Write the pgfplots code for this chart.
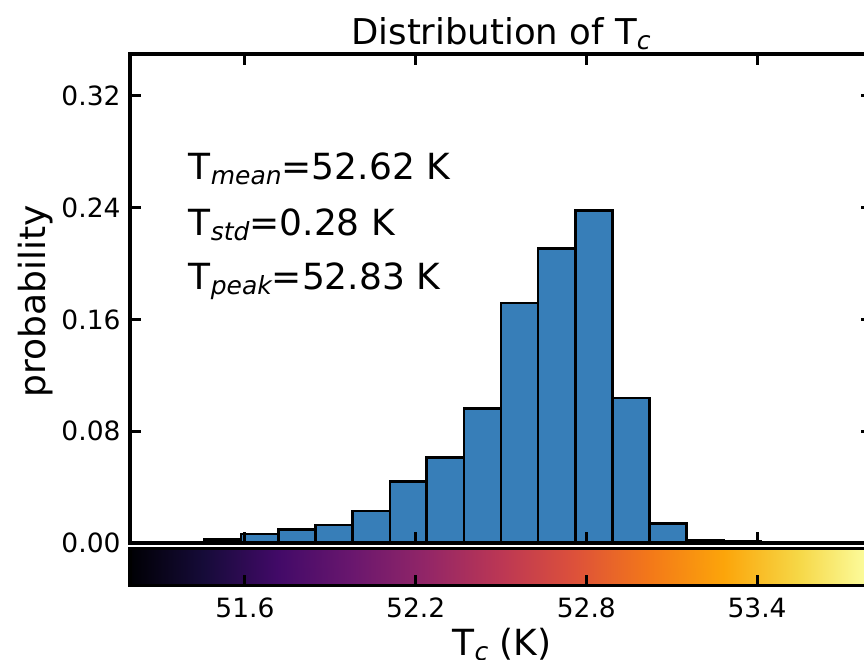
\documentclass[border=0pt]{standalone}
\usepackage{fontspec}
\setmainfont{DejaVu Sans}
\usepackage{pgfplots}
\pgfplotsset{compat=1.18}
\definecolor{barblue}{RGB}{55,126,184}
\newcommand{\subx}[1]{\raisebox{-5pt}{\fontsize{25}{25}\selectfont\itshape #1}}
\newcommand{\bigf}{\fontsize{36}{40}\selectfont}
\newcommand{\tickf}{\fontsize{26.5}{30}\selectfont}
\begin{document}
\begin{tikzpicture}
\path[use as bounding box, clip] (0pt,0pt) rectangle (864pt,-660pt);
\begin{axis}[
  scale only axis, width=742pt, height=489pt,
  at={(130pt,-543pt)}, anchor=south west,
  xmin=51.196, xmax=53.804, ymin=0, ymax=0.35,
  xtick={51.6,52.2,52.8,53.4}, xticklabel=\empty,
  ytick={0,0.08,0.16,0.24,0.32},
  tick align=inside, major tick length=11pt,
  every tick/.style={line width=3pt, black},
  axis line style={line width=3.3pt},
  minor tick num=0,
  yticklabel style={font=\tickf, inner sep=0pt, xshift=-9.3pt,
    /pgf/number format/.cd, fixed, fixed zerofill, precision=2, assume math mode=true},
  axis on top,
]
\addplot[ybar interval, fill=barblue, draw=black, line width=2.5pt] coordinates {
(51.457,0.0025) (51.587,0.0066) (51.718,0.0097) (51.848,0.0128) (51.978,0.0228)
(52.109,0.0439) (52.239,0.0612) (52.370,0.0961) (52.500,0.1717) (52.630,0.2107)
(52.761,0.2380) (52.891,0.1037) (53.022,0.0138) (53.152,0.0022) (53.282,0.0012)
(53.413,0.0008) (53.543,0.0008)
};
\node[anchor=base west, inner sep=0pt] at (axis cs:51.402,0.2604) {\bigf T\subx{mean}=52.62 K};
\node[anchor=base west, inner sep=0pt] at (axis cs:51.402,0.2202) {\bigf T\subx{std}=0.28 K};
\node[anchor=base west, inner sep=0pt] at (axis cs:51.402,0.1814) {\bigf T\subx{peak}=52.83 K};
\end{axis}
\begin{axis}[
  scale only axis, width=742pt, height=37pt,
  at={(130pt,-585.7pt)}, anchor=south west,
  xmin=51.196, xmax=53.804, ymin=0, ymax=1,
  ytick=\empty, xtick={51.6,52.2,52.8,53.4}, xtick pos=left,
  tick align=inside, major tick length=11pt,
  every tick/.style={line width=3pt, black},
  axis line style={line width=3.3pt},
  xticklabel style={font=\tickf, inner sep=0pt, yshift=-11.5pt,
    /pgf/number format/.cd, fixed, fixed zerofill, precision=1, assume math mode=true},
  axis on top,
  colormap={inferno}{rgb255=(0,0,4) rgb255=(22,11,57) rgb255=(66,10,104) rgb255=(106,23,110) rgb255=(147,38,103) rgb255=(188,55,84) rgb255=(221,81,58) rgb255=(243,120,25) rgb255=(252,165,10) rgb255=(246,215,70) rgb255=(252,255,164)},
  point meta min=51.196, point meta max=53.804,
]
\addplot[surf, shader=interp, point meta=x, mesh/cols=11] coordinates {
(51.196,0) (51.4568,0) (51.7176,0) (51.9784,0) (52.2392,0) (52.5,0) (52.7608,0) (53.0216,0) (53.2824,0) (53.5432,0) (53.804,0)
(51.196,1) (51.4568,1) (51.7176,1) (51.9784,1) (52.2392,1) (52.5,1) (52.7608,1) (53.0216,1) (53.2824,1) (53.5432,1) (53.804,1)
};
\end{axis}
\node[anchor=base, inner sep=0pt] at (501pt,-45pt) {\fontsize{35.5}{40}\selectfont Distribution of T\raisebox{-5pt}{\fontsize{25}{25}\selectfont\itshape c}};
\node[anchor=base, inner sep=0pt] at (502pt,-655.5pt) {\bigf T\subx{c} (K)};
\node[anchor=base, rotate=90, inner sep=0pt] at (45.5pt,-301.5pt) {\bigf probability};
\end{tikzpicture}
\end{document}
